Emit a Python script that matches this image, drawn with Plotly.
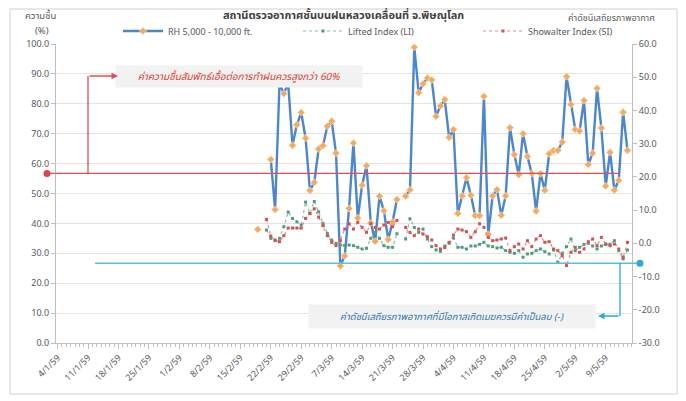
import pandas as pd
import plotly.graph_objects as go

# ---------------- data ----------------
dates = pd.date_range("2016-02-19", "2016-05-14", freq="D")  # 19/2/59 .. 14/5/59

rh = [38, None, None, 61.4, 44.6, 86.7, 83.4, 86.9, 66.1, 73.0, 77.1, 68.5, 51.0,
      53.7, 64.9, 66.0, 72.5, 74.2, 63.5, 25.8, 29.1, 45.0, 66.9, 41.8, 52.8, 59.3,
      40.1, 34.0, 49.1, 44.2, 34.6, 40.5, 48.0, None,
      49.1, 51.2, 98.9, 83.7, 86.7, 88.6, 88.0, 75.8, 79.3, 81.4,
      68.7, 71.4, 43.3, 49.2, 55.3, 49.4, 42.6, 42.6, 82.5, 36.3,
      49.2, 51.3, 42.7, 49.2, 72.0, 63.0, 56.3, 70.0, 62.4, 56.7,
      44.1, 56.7, 51.1, 63.3, 64.4, 64.4, 67.2, 89.1, 79.8, 71.4,
      70.9, 81.1, 59.7, 63.5, 85.2, 71.9, 52.5, 63.8, 51.1, 54.4,
      77.2, 64.4]

li = [None, None, 4.0, 1.5, 0.8, 1.5, 5.0, 9.4, 7.5, 6.5, 5.5, 12.4, 9.0,
      12.6, 9.5, 6.0, 3.0, 1.0, 0.0, -0.5, -0.7, -0.5, -0.7, -1.2, -1.7, -1.5,
      1.5, 3.3, 1.5, -0.7, -1.2, -1.2, 2.9, None,
      1.3, 7.4, 4.8, 3.3, 4.3, 1.3, -1.0, -2.0, -2.4, -0.8,
      0.0, 1.6, -1.2, -1.2, -1.7, -0.8, -0.8, -0.3, 0.3, -0.8,
      -1.0, -1.4, -1.2, -2.2, -2.7, -3.0, -2.2, -4.2, -3.2, -3.0,
      -2.2, -1.7, -2.5, -3.2, -2.0, -5.7, -3.0, -1.0, 1.3, -2.2,
      -1.2, -0.3, 0.0, -0.8, -1.7, -0.8, -0.3, -0.3, 0.8, -2.2,
      -4.7, -2.0]

si = [None, None, 7.2, 2.2, 1.0, 0.5, 2.3, 4.6, 4.6, 4.6, 4.6, 7.5, 9.0,
      10.4, 7.9, 5.3, 2.3, 0.3, -0.7, 0.8, 4.3, 5.9, 4.3, 6.3, 4.8, 3.3,
      5.9, 4.8, 4.3, 5.5, 6.3, 5.0, 6.9, None,
      4.8, 3.3, 2.3, 4.3, 2.8, 2.0, 1.0, -0.7, -1.7, -1.3,
      0.3, 2.5, 4.3, 4.0, 3.5, 1.8, 3.5, 5.9, 4.8, 1.8,
      0.8, 1.0, 1.3, 1.6, -2.2, -1.0, -0.2, -1.7, 0.8, -1.0,
      1.3, 2.3, 0.3, 0.5, -1.7, -2.2, -3.7, -6.7, -2.7, -1.2,
      -2.7, -1.7, 0.5, 1.3, -0.7, 1.8, -0.2, -0.7, -0.2, -1.7,
      -4.2, 0.3]

tick_labels = ["4/1/59", "11/1/59", "18/1/59", "25/1/59", "1/2/59", "8/2/59",
               "15/2/59", "22/2/59", "29/2/59", "7/3/59", "14/3/59", "21/3/59",
               "28/3/59", "4/4/59", "11/4/59", "18/4/59", "25/4/59", "2/5/59", "9/5/59"]
tick_dates = pd.date_range("2016-01-04", periods=len(tick_labels), freq="7D")

rh_threshold = 56.7     # red reference line (left axis)
index_threshold = -6.0  # cyan reference line (right axis)

# ---------------- figure ----------------
FONT = "Noto Sans Thai, Noto Sans, DejaVu Sans, sans-serif"
GRAY = "#595959"

fig = go.Figure()
fig.add_trace(go.Scatter(
    x=dates, y=rh, name="RH 5,000 - 10,000 ft.", mode="lines+markers",
    line=dict(color="#4A86D4", width=2.4),
    marker=dict(symbol="diamond", size=5.5, color="#F6A95A",
                line=dict(color="#FBD9AE", width=0.8)),
    connectgaps=False, yaxis="y"))
fig.add_trace(go.Scatter(
    x=dates, y=li, name="Lifted Index (LI)", mode="lines+markers",
    line=dict(color="#7FC3B0", width=1.2, dash="dot"),
    marker=dict(symbol="square", size=3, color="#4E9E7E"),
    yaxis="y2"))
fig.add_trace(go.Scatter(
    x=dates, y=si, name="Showalter Index (SI)", mode="lines+markers",
    line=dict(color="#E98A8A", width=1.2, dash="dot"),
    marker=dict(symbol="square", size=3, color="#D95050"),
    yaxis="y2"))

# the page body adds an 8px offset; positions below are given in window pixels
OFF = 8
W, H = 686 - OFF, 401 - OFF
PL, PR, PT, PB = 56, 632, 44, 343          # plot area in window pixels
L, R, T, B = PL - OFF, W - (PR - OFF), PT - OFF, H - (PB - OFF)
pw, ph = PR - PL, PB - PT

def px(xp):   # window pixel x -> paper
    return (xp - PL) / pw

def py(yp):   # window pixel y -> paper
    return (PB - yp) / ph

shapes = [
    # outer frame
    dict(type="rect", xref="paper", yref="paper", x0=px(10), x1=px(677), y0=py(394), y1=py(9),
         line=dict(color="#D0D0D0", width=1), layer="below"),
    # red reference line
    dict(type="line", xref="paper", yref="y", x0=px(47), x1=px(619),
         y0=rh_threshold, y1=rh_threshold, line=dict(color="#E05050", width=1.3)),
    dict(type="circle", xref="paper", yref="y", xsizemode="pixel", ysizemode="pixel",
         xanchor=px(47), yanchor=rh_threshold, x0=-3.5, x1=3.5, y0=-3.5, y1=3.5,
         fillcolor="#E84040", line=dict(color="#E84040", width=0)),
    dict(type="line", xref="paper", yref="paper", x0=px(88), x1=px(88),
         y0=py(173), y1=py(76), line=dict(color="#E05050", width=1.3)),
    # cyan reference line
    dict(type="line", xref="paper", yref="y2", x0=px(95), x1=px(640),
         y0=index_threshold, y1=index_threshold, line=dict(color="#4FC3E0", width=1.3)),
    dict(type="circle", xref="paper", yref="y2", xsizemode="pixel", ysizemode="pixel",
         xanchor=px(640), yanchor=index_threshold, x0=-3.5, x1=3.5, y0=-3.5, y1=3.5,
         fillcolor="#2AA8E0", line=dict(color="#2AA8E0", width=0)),
    dict(type="line", xref="paper", yref="paper", x0=px(620), x1=px(620),
         y0=py(263), y1=py(316), line=dict(color="#2AA8E0", width=1.3)),
]

def label(text, x, y, size, color, **kw):
    return dict(text=text, xref="paper", yref="paper", x=px(x), y=py(y), showarrow=False,
                xanchor="center", yanchor="middle",
                font=dict(size=size, color=color, family=FONT), **kw)

annotations = [
    label("<b>สถานีตรวจอากาศชั้นบนฝนหลวงเคลื่อนที่ จ.พิษณุโลก</b>", 343, 15.5, 11, "#404040"),
    label("ความชื้น", 40, 16, 9.5, GRAY),
    label("(%)", 42, 31, 9.5, GRAY),
    label("ค่าดัชนีเสถียรภาพอากาศ", 611, 18, 9, GRAY),
    label("<i>ค่าความชื้นสัมพัทธ์เอื้อต่อการทำฝนควรสูงกว่า 60%</i>", 239, 76, 10, "#E03C31",
          bgcolor="#F2F2F2", width=244, height=19),
    dict(text="", xref="paper", yref="paper", x=px(118), y=py(76), ax=-30, ay=0,
         showarrow=True, arrowhead=2, arrowsize=1, arrowwidth=1.3, arrowcolor="#E05050"),
    label("<i>ค่าดัชนีเสถียรภาพอากาศที่มีโอกาสเกิดเมฆควรมีค่าเป็นลบ (-)</i>", 452, 316, 9.5,
          "#2E75B6", bgcolor="#F2F2F2", width=284, height=21),
    dict(text="", xref="paper", yref="paper", x=px(598), y=py(316), ax=22, ay=0,
         showarrow=True, arrowhead=2, arrowsize=1, arrowwidth=1.3, arrowcolor="#2AA8E0"),
]

fig.update_layout(
    width=W, height=H,
    margin=dict(l=L, r=R, t=T, b=B, autoexpand=False),
    paper_bgcolor="white", plot_bgcolor="white",
    font=dict(family=FONT, size=9, color=GRAY),
    showlegend=True,
    legend=dict(orientation="h", x=px(118), y=py(31), xanchor="left", yanchor="middle",
                entrywidth=125, entrywidthmode="pixels", font=dict(size=9, color=GRAY),
                bgcolor="rgba(0,0,0,0)", itemwidth=40, tracegroupgap=0),
    xaxis=dict(type="date", range=["2016-01-03 15:00", "2016-05-15 01:00"],
               tickvals=tick_dates, ticktext=tick_labels, tickangle=-45,
               showgrid=False, showline=True, linecolor="#BFBFBF", linewidth=1,
               ticks="outside", ticklen=5, tickcolor="#BFBFBF",
               minor=dict(dtick=86400000, ticks="outside", ticklen=3, tickcolor="#BFBFBF",
                          showgrid=False),
               tickfont=dict(size=9, color=GRAY), zeroline=False),
    yaxis=dict(range=[0, 100], dtick=10, tickformat=".1f", showgrid=True,
               gridcolor="#E3E3E3", gridwidth=1, showline=True, linecolor="#BFBFBF",
               ticks="outside", ticklen=4, tickcolor="#BFBFBF", zeroline=False,
               tickfont=dict(size=9, color=GRAY)),
    yaxis2=dict(range=[-30, 60], dtick=10, tickformat=".1f", overlaying="y", side="right",
                showgrid=False, showline=True, linecolor="#BFBFBF", ticks="outside",
                ticklen=4, tickcolor="#BFBFBF", zeroline=False,
                tickfont=dict(size=9, color=GRAY)),
    shapes=shapes, annotations=annotations,
)

fig.write_html("out.html")
